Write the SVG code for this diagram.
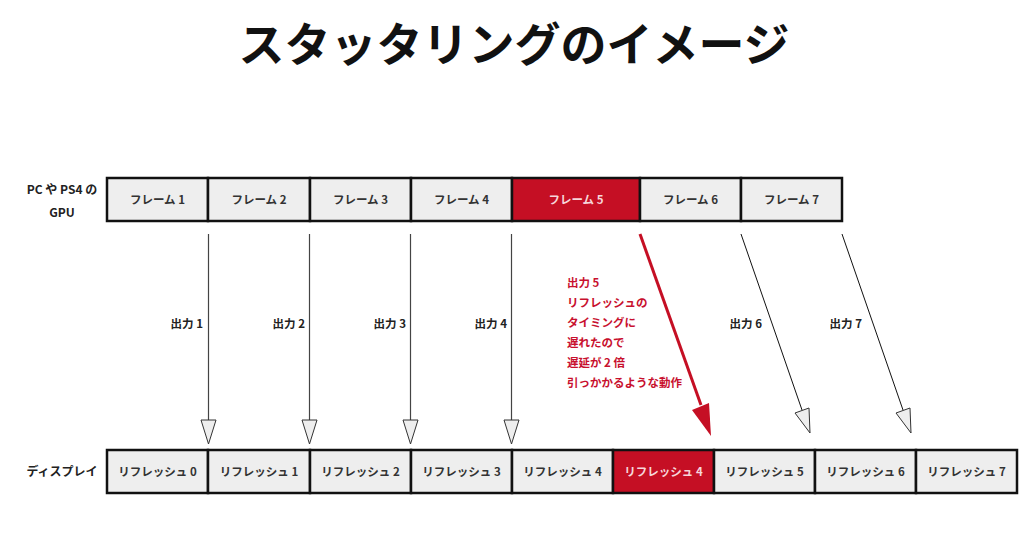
<svg xmlns="http://www.w3.org/2000/svg" width="1024" height="560" viewBox="0 0 1024 560">
<defs>
<style>
text{font-family:"Noto Sans CJK JP","Noto Sans",sans-serif;font-weight:bold}
.title{font-size:46px;fill:#111}
.lbl{font-size:12px;fill:#222}
.box{fill:#eeeeee;stroke:#111;stroke-width:2.5}
.red{fill:#c50f24;stroke:#111;stroke-width:2.5}
.bt{font-size:11.5px;fill:#333;text-anchor:middle}
.rt{font-size:11.5px;fill:#f6d6da;text-anchor:middle}
.out{font-size:11.5px;fill:#222;text-anchor:end}
.note{font-size:11.5px;fill:#c8102e}
.ln{stroke:#444;stroke-width:1.2;fill:none}
.head{fill:#eeeeee;stroke:#333;stroke-width:1}
</style>
</defs>
<rect width="1024" height="560" fill="#ffffff"/>
<text class="title" x="514" y="61" text-anchor="middle">スタッタリングのイメージ</text>

<g id="label-gpu">
<text class="lbl" x="62" y="194" text-anchor="middle">PC や PS4 の</text>
<text class="lbl" x="62" y="217" text-anchor="middle">GPU</text>
</g>
<g id="label-display">
<text class="lbl" x="62" y="476" text-anchor="middle">ディスプレイ</text>
</g>

<g id="frame1"><rect class="box" x="107" y="178" width="101" height="43"/><text class="bt" x="157.5" y="204">フレーム 1</text></g>
<g id="frame2"><rect class="box" x="208" y="178" width="102" height="43"/><text class="bt" x="259" y="204">フレーム 2</text></g>
<g id="frame3"><rect class="box" x="310" y="178" width="101" height="43"/><text class="bt" x="360.5" y="204">フレーム 3</text></g>
<g id="frame4"><rect class="box" x="411" y="178" width="101" height="43"/><text class="bt" x="461.5" y="204">フレーム 4</text></g>
<g id="frame5"><rect class="red" x="512" y="178" width="128" height="43"/><text class="rt" x="576" y="204">フレーム 5</text></g>
<g id="frame6"><rect class="box" x="640" y="178" width="101" height="43"/><text class="bt" x="690.5" y="204">フレーム 6</text></g>
<g id="frame7"><rect class="box" x="741" y="178" width="101" height="43"/><text class="bt" x="791.5" y="204">フレーム 7</text></g>

<g id="refresh0"><rect class="box" x="107" y="450" width="101" height="43"/><text class="bt" x="157.5" y="476">リフレッシュ 0</text></g>
<g id="refresh1"><rect class="box" x="208" y="450" width="102" height="43"/><text class="bt" x="259" y="476">リフレッシュ 1</text></g>
<g id="refresh2"><rect class="box" x="310" y="450" width="101" height="43"/><text class="bt" x="360.5" y="476">リフレッシュ 2</text></g>
<g id="refresh3"><rect class="box" x="411" y="450" width="101" height="43"/><text class="bt" x="461.5" y="476">リフレッシュ 3</text></g>
<g id="refresh4"><rect class="box" x="512" y="450" width="101" height="43"/><text class="bt" x="562.5" y="476">リフレッシュ 4</text></g>
<g id="refresh4b"><rect class="red" x="613" y="450" width="101" height="43"/><text class="rt" x="663.5" y="476">リフレッシュ 4</text></g>
<g id="refresh5"><rect class="box" x="714" y="450" width="101" height="43"/><text class="bt" x="764.5" y="476">リフレッシュ 5</text></g>
<g id="refresh6"><rect class="box" x="815" y="450" width="101" height="43"/><text class="bt" x="865.5" y="476">リフレッシュ 6</text></g>
<g id="refresh7"><rect class="box" x="916" y="450" width="101" height="43"/><text class="bt" x="966.5" y="476">リフレッシュ 7</text></g>

<g id="connectors">
<line class="ln" x1="208.5" y1="234" x2="208.5" y2="420"/>
<polygon class="head" points="201,420 216,420 208.5,444"/>
<line class="ln" x1="309.5" y1="234" x2="309.5" y2="420"/>
<polygon class="head" points="302,420 317,420 309.5,444"/>
<line class="ln" x1="410.5" y1="234" x2="410.5" y2="420"/>
<polygon class="head" points="403,420 418,420 410.5,444"/>
<line class="ln" x1="511.5" y1="234" x2="511.5" y2="420"/>
<polygon class="head" points="504,420 519,420 511.5,444"/>

<line stroke="#111" stroke-width="1" x1="741" y1="234" x2="802" y2="410"/>
<polygon class="head" points="795,413 809,408 810,433"/>
<line stroke="#111" stroke-width="1" x1="842" y1="234" x2="903" y2="410"/>
<polygon class="head" points="896,413 910,408 911,433"/>

<line stroke="#c50f24" stroke-width="3" x1="640" y1="234" x2="701" y2="405"/>
<polygon fill="#c50f24" points="692,410 709,403 711,436"/>

<text class="out" x="203" y="328">出力 1</text>
<text class="out" x="305" y="328">出力 2</text>
<text class="out" x="406" y="328">出力 3</text>
<text class="out" x="507" y="328">出力 4</text>
<text class="out" x="762" y="328">出力 6</text>
<text class="out" x="862" y="328">出力 7</text>

<text class="note" x="567" y="287">出力 5</text>
<text class="note" x="567" y="307">リフレッシュの</text>
<text class="note" x="567" y="327">タイミングに</text>
<text class="note" x="567" y="347">遅れたので</text>
<text class="note" x="567" y="367">遅延が 2 倍</text>
<text class="note" x="567" y="387">引っかかるような動作</text>
</g>
</svg>
